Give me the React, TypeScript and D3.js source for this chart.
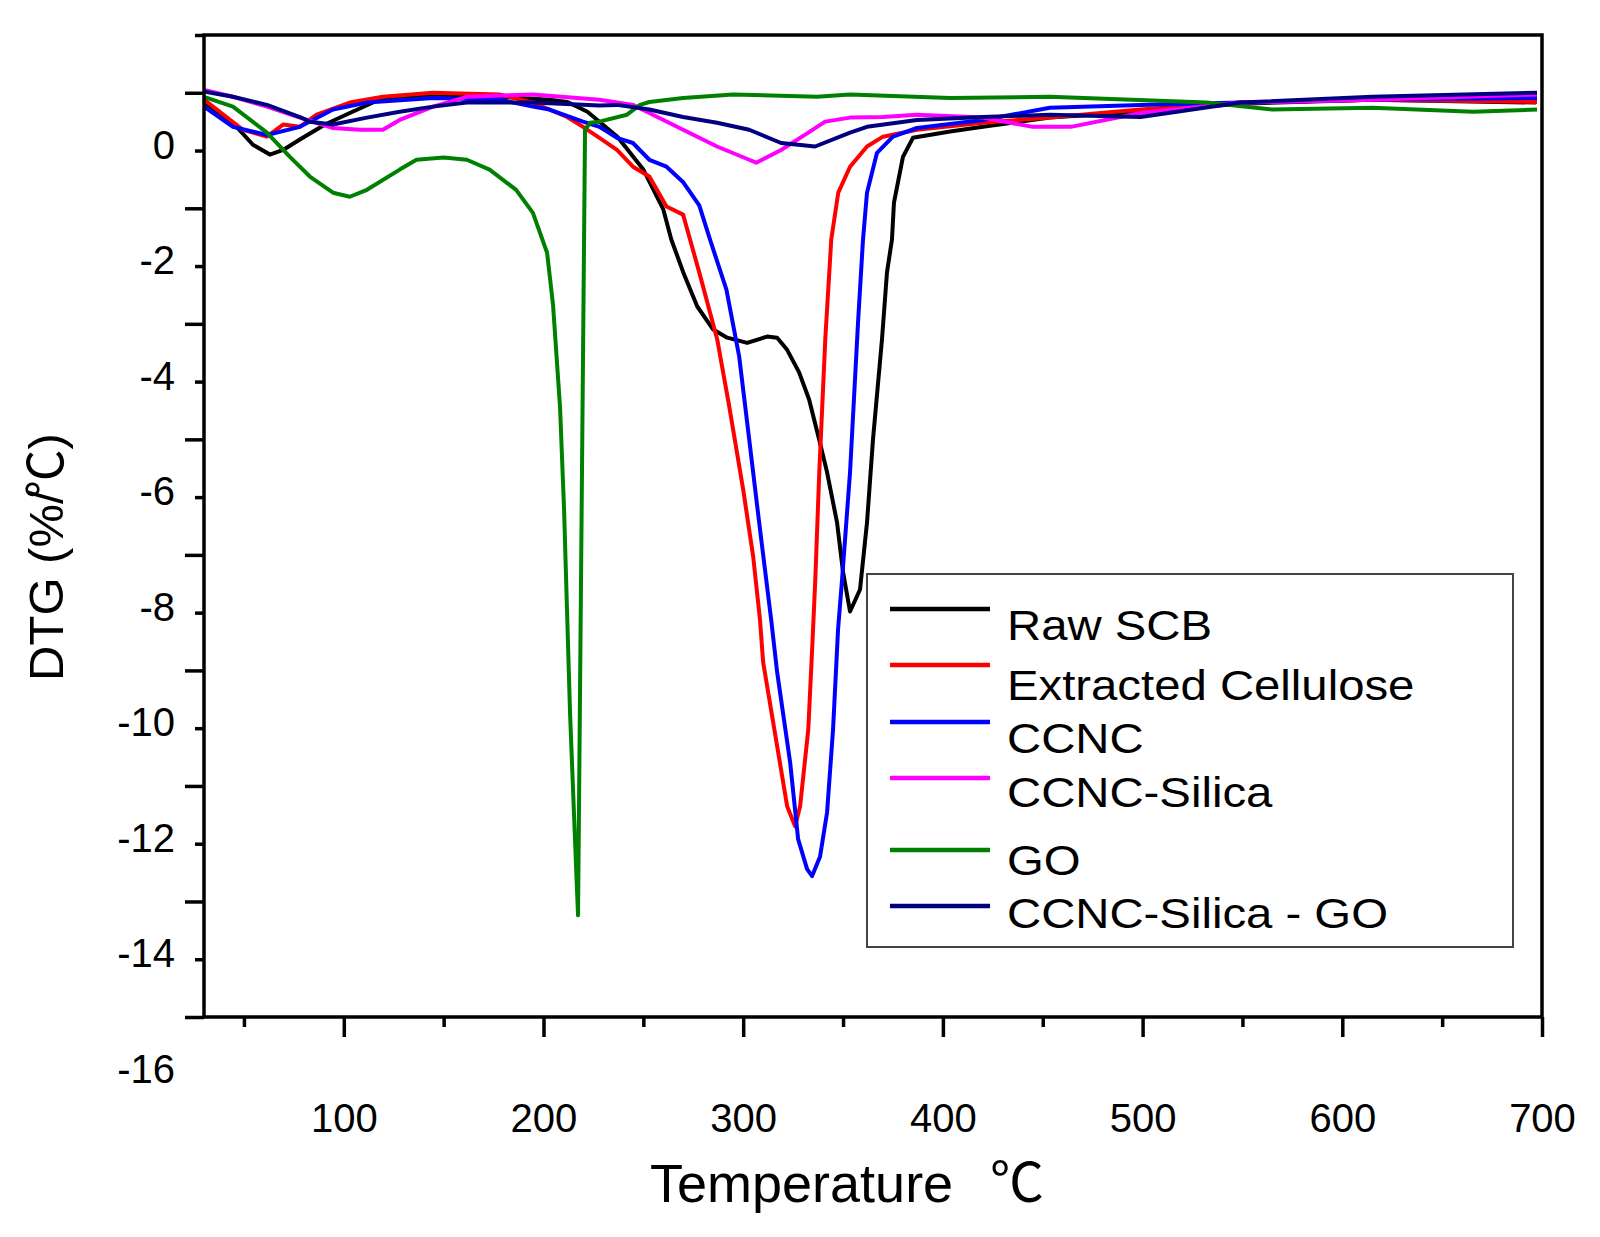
import { useEffect, useRef } from "react"
import * as d3 from "d3"

type Pt = [number, number]

// [temperature °C, DTG %/°C]
const rawSCB: Pt[] = [
  [30, -0.16], [44.5, -0.52], [54.5, -0.9], [63, -1.07], [69.6, -0.99], [78, -0.81], [90.6, -0.55],
  [103, -0.35], [119.6, -0.09], [144.7, -0.03], [178, -0.07], [203, -0.12], [212, -0.16], [222, -0.33],
  [237, -0.76], [250, -1.33], [260, -2.02], [264, -2.54], [270, -3.11], [277, -3.7], [285, -4.1],
  [292, -4.24], [302, -4.33], [312, -4.22], [317, -4.24], [322, -4.45], [328, -4.84], [333, -5.31],
  [338, -6.0], [342, -6.57], [347, -7.44], [350, -8.3], [353.5, -8.98], [358.5, -8.6], [362, -7.44],
  [365, -6.0], [369.5, -4.27], [372, -3.11], [374.5, -2.54], [375.5, -1.9], [380, -1.11], [385, -0.78],
  [403.6, -0.67], [420, -0.59], [453.6, -0.43], [499, -0.33], [549, -0.19], [615, -0.12], [697, -0.17],
]

const extractedCellulose: Pt[] = [
  [30, -0.12], [49.5, -0.64], [61.5, -0.76], [69.6, -0.55], [78, -0.59], [86.4, -0.38], [103, -0.17],
  [119.6, -0.07], [144.7, 0], [178, -0.03], [194.7, -0.17], [211.8, -0.42], [219.8, -0.59], [228, -0.78],
  [236.8, -0.99], [244.8, -1.28], [253, -1.45], [261.6, -1.97], [269.9, -2.11], [278, -3.11], [287, -4.27],
  [293, -5.43], [300, -6.87], [305, -8.03], [308.4, -9.12], [310, -9.86], [317, -11.31], [322, -12.35],
  [326, -12.7], [328.5, -12.35], [332.6, -11.02], [334.6, -9.58], [336.1, -8.43], [338.1, -6.57],
  [341.1, -4.27], [344.1, -2.54], [347.6, -1.73], [353.5, -1.28], [362, -0.93], [370, -0.76], [387, -0.64],
  [420, -0.52], [453.6, -0.43], [499, -0.29], [549, -0.17], [615, -0.12], [697.5, -0.16],
]

const ccnc: Pt[] = [
  [30, -0.24], [44.5, -0.59], [61.5, -0.73], [78, -0.59], [94.6, -0.29], [111.6, -0.17], [144.7, -0.09],
  [178, -0.12], [194.7, -0.24], [203, -0.29], [219.8, -0.5], [228, -0.59], [236.8, -0.78], [244.8, -0.87],
  [253, -1.16], [261.6, -1.28], [270, -1.55], [278, -1.95], [283, -2.5], [291.6, -3.41], [298, -4.57],
  [303, -6.0], [308, -7.44], [314, -9.12], [317, -10.03], [323.5, -11.59], [327.5, -12.92], [332, -13.44],
  [334.5, -13.56], [338.5, -13.22], [342, -12.46], [345, -11.02], [347.5, -9.29], [349.5, -8.43],
  [353.5, -6.57], [357.5, -3.98], [360, -2.54], [362, -1.73], [367, -1.04], [375, -0.76], [387, -0.61],
  [420, -0.47], [453.6, -0.26], [499, -0.21], [549, -0.17], [615, -0.12], [697.5, -0.09],
]

const ccncSilica: Pt[] = [
  [30, 0.05], [44.5, -0.07], [61.5, -0.24], [78, -0.43], [94.6, -0.61], [108, -0.64], [119.6, -0.64],
  [128, -0.47], [144.7, -0.24], [161.6, -0.07], [194.7, -0.03], [228, -0.12], [244.8, -0.21], [253, -0.35],
  [269.9, -0.64], [286.9, -0.93], [303, -1.16], [306.5, -1.21], [319, -0.99], [332.6, -0.69], [341, -0.5],
  [353.5, -0.43], [370, -0.42], [387, -0.38], [420, -0.43], [445, -0.59], [464, -0.59], [499, -0.35],
  [549, -0.17], [615, -0.12], [697.5, -0.03],
]

const go: Pt[] = [
  [30, -0.07], [44.5, -0.24], [61.5, -0.69], [73, -1.11], [83, -1.45], [94.6, -1.73], [103, -1.8],
  [111.6, -1.68], [128, -1.33], [136.4, -1.16], [150, -1.12], [161.6, -1.16], [173, -1.33], [186.3, -1.68],
  [194.7, -2.08], [201.8, -2.77], [204.8, -3.68], [208.3, -5.45], [210.3, -7.21], [211.8, -8.98],
  [213.3, -10.74], [215.3, -12.51], [217.3, -14.24], [220.8, -0.64], [223.3, -0.52], [228, -0.5],
  [241.8, -0.38], [248.3, -0.21], [253, -0.16], [269.9, -0.09], [294.9, -0.03], [337, -0.07], [353.5, -0.03],
  [403.6, -0.09], [453.6, -0.07], [532, -0.17], [565, -0.29], [615, -0.26], [665.5, -0.33], [697.5, -0.29],
]

const ccncSilicaGO: Pt[] = [
  [30, 0.02], [44.5, -0.07], [61.5, -0.21], [78, -0.42], [83, -0.5], [94.6, -0.55], [111.6, -0.43],
  [128, -0.33], [144.7, -0.24], [161.6, -0.17], [194.7, -0.17], [228, -0.22], [236.8, -0.21], [253, -0.29],
  [269.9, -0.42], [286.9, -0.52], [303, -0.64], [319, -0.87], [336, -0.93], [353.5, -0.69], [362, -0.59],
  [387, -0.47], [420, -0.42], [453.6, -0.38], [499, -0.42], [549, -0.17], [615, -0.07], [697.5, 0],
]

const seriesData = [rawSCB, extractedCellulose, ccnc, ccncSilica, go, ccncSilicaGO]
const seriesNames = ["Raw SCB", "Extracted Cellulose", "CCNC", "CCNC-Silica", "GO", "CCNC-Silica - GO"]
const seriesColors = ["#000000", "#ff0000", "#0000ff", "#ff00ff", "#008000", "#000080"]

const xMajorTicks = [100, 200, 300, 400, 500, 600, 700]
const xMinorTicks = [50, 150, 250, 350, 450, 550, 650]
const yMajorTicks = [-16, -14, -12, -10, -8, -6, -4, -2, 0]
const yMinorTicks = [-15, -13, -11, -9, -7, -5, -3, -1, 1]

export default function App() {
  const svgRef = useRef<SVGSVGElement>(null)

  useEffect(() => {
    if (!svgRef.current) return
    const svg = d3.select(svgRef.current)
    svg.selectAll("*").remove()

    const left = 204
    const right = 1542
    const top = 35
    const bottom = 1017
    const font = "'Liberation Sans', Arial, Helvetica, sans-serif"
    const cjk = "'Noto Sans CJK SC', 'DejaVu Sans', sans-serif"

    const x = d3.scaleLinear().domain([30, 700]).range([left, right])
    const y = d3.scaleLinear().domain([-16, 1]).range([bottom, top])

    svg.append("rect").attr("width", 1600).attr("height", 1237).attr("fill", "#fff")

    // Curves
    const line = d3
      .line<Pt>()
      .x((d) => x(d[0]))
      .y((d) => y(d[1]))

    seriesData.forEach((s, i) => {
      svg
        .append("path")
        .attr("d", line(s))
        .attr("fill", "none")
        .attr("stroke", seriesColors[i])
        .attr("stroke-width", 4)
        .attr("stroke-linejoin", "round")
    })

    // Frame
    svg
      .append("rect")
      .attr("x", left)
      .attr("y", top)
      .attr("width", right - left)
      .attr("height", bottom - top)
      .attr("fill", "none")
      .attr("stroke", "#000")
      .attr("stroke-width", 3.5)

    // Y axis (labels sit ~50px below their ticks in the original)
    const yMajor = svg
      .append("g")
      .attr("transform", `translate(${left},0)`)
      .call(
        d3
          .axisLeft(y)
          .tickValues(yMajorTicks)
          .tickSize(19)
          .tickSizeOuter(0)
          .tickFormat((d) => String(d)),
      )
    yMajor.select(".domain").remove()
    yMajor.selectAll("line").attr("stroke-width", 3.5)
    yMajor
      .selectAll("text")
      .attr("x", -29)
      .attr("y", 51)
      .attr("dy", "0.36em")
      .attr("font-family", font)
      .attr("font-size", 40)
      .attr("fill", "#000")

    const yMinor = svg
      .append("g")
      .attr("transform", `translate(${left},0)`)
      .call(d3.axisLeft(y).tickValues(yMinorTicks).tickSize(9).tickSizeOuter(0).tickFormat(() => ""))
    yMinor.select(".domain").remove()
    yMinor.selectAll("line").attr("stroke-width", 3.5)

    // X axis
    const xMajor = svg
      .append("g")
      .attr("transform", `translate(0,${bottom})`)
      .call(
        d3
          .axisBottom(x)
          .tickValues(xMajorTicks)
          .tickSize(20)
          .tickSizeOuter(0)
          .tickFormat((d) => String(d)),
      )
    xMajor.select(".domain").remove()
    xMajor.selectAll("line").attr("stroke-width", 3.5)
    xMajor
      .selectAll("text")
      .attr("y", 115)
      .attr("dy", 0)
      .attr("font-family", font)
      .attr("font-size", 40)
      .attr("fill", "#000")

    const xMinor = svg
      .append("g")
      .attr("transform", `translate(0,${bottom})`)
      .call(d3.axisBottom(x).tickValues(xMinorTicks).tickSize(10).tickSizeOuter(0).tickFormat(() => ""))
    xMinor.select(".domain").remove()
    xMinor.selectAll("line").attr("stroke-width", 3.5)

    // Axis titles
    const xTitle = svg
      .append("text")
      .attr("y", 1202)
      .attr("font-family", font)
      .attr("font-size", 54)
      .attr("fill", "#000")
    xTitle.append("tspan").attr("x", 650).text("Temperature")
    xTitle.append("tspan").attr("x", 990).attr("font-family", cjk).text("℃")

    const yTitle = svg
      .append("text")
      .attr("transform", "translate(63,557) rotate(-90)")
      .attr("text-anchor", "middle")
      .attr("font-family", font)
      .attr("font-size", 49)
      .attr("fill", "#000")
    yTitle.append("tspan").text("DTG (%/")
    yTitle.append("tspan").attr("font-family", cjk).attr("dx", -8).text("℃")
    yTitle.append("tspan").text(")")

    // Legend
    const legend = svg.append("g")
    legend
      .append("rect")
      .attr("x", 867)
      .attr("y", 574)
      .attr("width", 646)
      .attr("height", 373)
      .attr("fill", "#fff")
      .attr("stroke", "#444")
      .attr("stroke-width", 2)

    const lineRows = [609, 665, 722, 778, 850, 906]
    const textRows = [640, 700, 753, 807, 875, 928]

    seriesNames.forEach((name, i) => {
      legend
        .append("line")
        .attr("x1", 890)
        .attr("x2", 990)
        .attr("y1", lineRows[i])
        .attr("y2", lineRows[i])
        .attr("stroke", seriesColors[i])
        .attr("stroke-width", 4.5)
      legend
        .append("g")
        .attr("transform", `translate(1007,${textRows[i]}) scale(1.1,1)`)
        .append("text")
        .attr("font-family", font)
        .attr("font-size", 43)
        .attr("fill", "#000")
        .text(name)
    })
  }, [])

  return <svg ref={svgRef} width={1600} height={1237} style={{ position: "absolute", left: 0, top: 0 }} />
}
